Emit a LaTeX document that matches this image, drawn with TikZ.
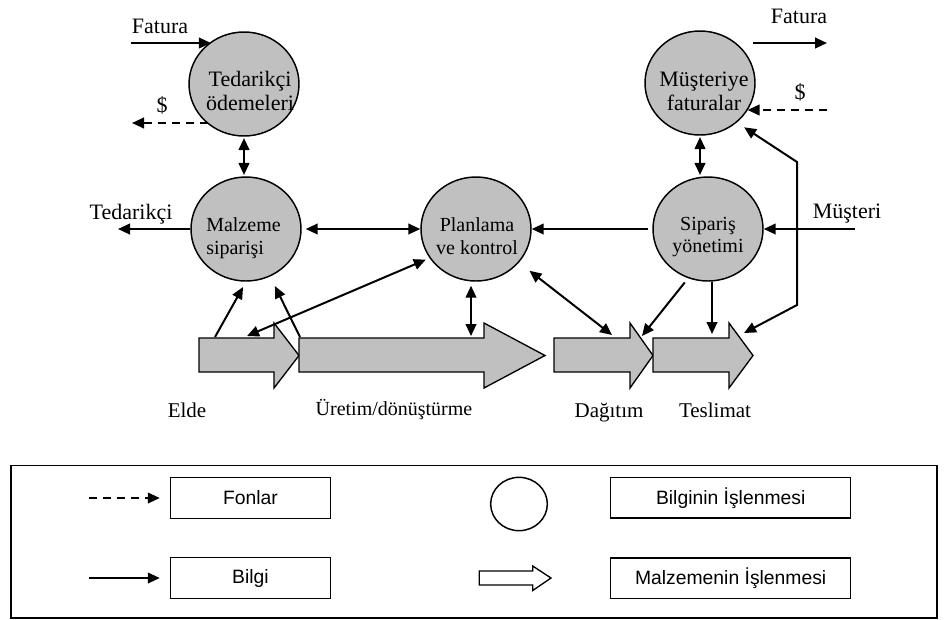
\documentclass[tikz,border=0pt]{standalone}
\usepackage{fontspec}
\setmainfont{Liberation Serif}
\setsansfont{Liberation Sans}
\usetikzlibrary{arrows.meta,shapes.geometric}
\definecolor{procgray}{RGB}{192,192,192}
\tikzset{
  proc/.style={ellipse, draw, line width=1.1pt, fill=procgray,
    minimum width=82.5pt, minimum height=78pt, inner sep=0pt},
  bigtxt/.style={font=\fontsize{16.5}{18}\selectfont, inner sep=0pt, align=center},
  midtxt/.style={font=\fontsize{15}{17}\selectfont, inner sep=0pt},
  lbl/.style={font=\fontsize{16.5}{18}\selectfont, inner sep=0pt, anchor=base},
  lowlbl/.style={font=\fontsize{15.75}{18}\selectfont, inner sep=0pt, anchor=base},
  info/.style={line width=1.5pt, -{Triangle[length=9pt,width=8pt]}},
  both/.style={line width=1.5pt, {Triangle[length=9pt,width=8pt]}-{Triangle[length=9pt,width=8pt]}},
  fund/.style={info, dash pattern=on 6pt off 4.5pt},
  stage/.style={draw, line width=1pt, fill=procgray, line join=miter},
  keybox/.style={draw, line width=1.1pt, minimum height=30.5pt, inner sep=0pt,
    font=\sffamily\fontsize{14.5}{16}\selectfont},
}
% material flow arrow: name, tail x, head base x, tip x
\newcommand\stagearrow[4]{%
  \draw[stage] (#2,338) -- (#3,338) -- (#3,323) -- (#4,355.5) -- (#3,388)
    -- (#3,372) -- (#2,372) -- cycle;
  \coordinate (#1) at (#2,355);
}
\begin{document}
\begin{tikzpicture}[x=0.75pt,y=-0.75pt]
\fill[white] (0,0) rectangle (948,619);
\useasboundingbox (0,0) rectangle (948,619);

% information processing steps
\node[proc] (ted) at (244,84) {};
\node[proc] (mus) at (700,83) {};
\node[proc] (malz) at (246,229) {};
\node[proc] (plan) at (476,229) {};
\node[proc] (sip) at (708,229) {};

\node[bigtxt] (tedT) at (250,91) {Tedarikçi\\ödemeleri};
\node[bigtxt] (musT) at (704,91) {Müşteriye\\faturalar};
\node[midtxt, align=left, anchor=west] (malzT) at (206,238) {Malzeme\\siparişi};
\node[midtxt, align=center] (planT) at (477,236) {Planlama\\ve kontrol};
\node[midtxt, align=center] (sipT) at (708,237) {Sipariş\\yönetimi};

% material flow
\stagearrow{elde}{199}{274}{299}
\stagearrow{uret}{299}{484}{545}
\stagearrow{dag}{554}{630}{653}
\stagearrow{tes}{653}{729}{753}

% outer labels
\node[lbl] (fatLt) at (160,33) {Fatura};
\node[lbl] (fatRt) at (799,23) {Fatura};
\node[lbl] (dolLt) at (162,112) {\$};
\node[lbl] (dolRt) at (800,99) {\$};
\node[lbl] (tedLt) at (131,219) {Tedarikçi};
\node[lbl] (musLt) at (847,218) {Müşteri};
\node[lowlbl] (eldeT) at (187,417) {Elde};
\node[lowlbl, font=\fontsize{15}{18}\selectfont] (uretT) at (394,415) {Üretim/dönüştürme};
\node[lowlbl] (dagT) at (609,417) {Dağıtım};
\node[lowlbl] (tesT) at (715,417) {Teslimat};

% free ends and attachment points
\coordinate (fatL) at (131,43);
\coordinate (fatRa) at (753,43);
\coordinate (fatRb) at (827,43);
\coordinate (dolL) at (132,123);
\coordinate (dolR) at (827,110);
\coordinate (supL) at (118,229);
\coordinate (custR) at (855,229);
\coordinate (elde-a) at (215,337);
\coordinate (elde-b) at (247,336);
\coordinate (uret-a) at (300,337);
\coordinate (uret-n) at (471,336);
\coordinate (dag-a) at (612,335);
\coordinate (dag-b) at (642,336);
\coordinate (tes-n) at (712,334);
\coordinate (tes-a) at (744,333);
\coordinate (bendB) at (797,305);
\coordinate (bendT) at (797,162);

% invoices and payments
\draw[info] (fatL) -- (ted.128 |- fatL);
\draw[fund] (ted.-132 |- dolL) -- (dolL);
\draw[info] (fatRa) -- (fatRb);
\draw[fund] (dolR) -- (mus.-30 |- dolR);

% information links
\draw[both, shorten <=1pt, shorten >=1pt] (ted.south) -- (ted.south |- malz.north);
\draw[both, shorten <=1pt, shorten >=1pt] (mus.south) -- (mus.south |- sip.north);
\draw[info] (malz.west) -- (supL);
\draw[both, shorten <=3pt] (malz.east) -- (plan.west);
\draw[info, shorten <=3pt] (sip.west) -- (plan.east);
\draw[info] (custR) -- (sip.east);

\draw[info, shorten >=4.5pt] (elde-a) -- (malz.south);
\draw[info, shorten >=8pt] (uret-a) -- (malz.-63);
\draw[both, shorten >=3pt] (elde-b) -- (plan.212);
\draw[both, shorten <=3pt] (uret-n |- plan.south) -- (uret-n);
\draw[both, shorten <=10pt] (plan.-38) -- (dag-a);
\draw[info, shorten <=4pt] (sip.-112) -- (dag-b);
\draw[info] (tes-n |- sip.south) -- (tes-n);
\draw[both, shorten >=6.5pt] (tes-a) -- (bendB) -- (bendT) -- (mus.-47);

% key
\draw[line width=1.3pt] (10.7,465.5) rectangle (937,617.7);
\node[keybox, minimum width=120pt] (kFon) at (250.5,498) {Fonlar};
\node[keybox, minimum width=120pt] (kBil) at (250.5,578) {Bilgi};
\node[keybox, minimum width=180pt] (kBin) at (730.7,497.8) {Bilginin İşlenmesi};
\node[keybox, minimum width=180pt] (kMin) at (730.7,578.3) {Malzemenin İşlenmesi};
\node[ellipse, draw, line width=1.1pt, minimum width=42.5pt, minimum height=40pt, inner sep=0pt] (kCirc) at (519,504) {};
\coordinate (kF0) at (89,498);
\coordinate (kB0) at (89,578);
\draw[fund, line width=1.4pt, shorten >=7.5pt] (kF0) -- (kFon.west);
\draw[info, line width=1.4pt, shorten >=7.5pt] (kB0) -- (kBil.west);
\draw[line width=1pt, line join=miter] (479.3,571) -- (532.7,571) -- (532.7,566) -- (551,578)
  -- (532.7,590.5) -- (532.7,585) -- (479.3,585) -- cycle;
\end{tikzpicture}
\end{document}
